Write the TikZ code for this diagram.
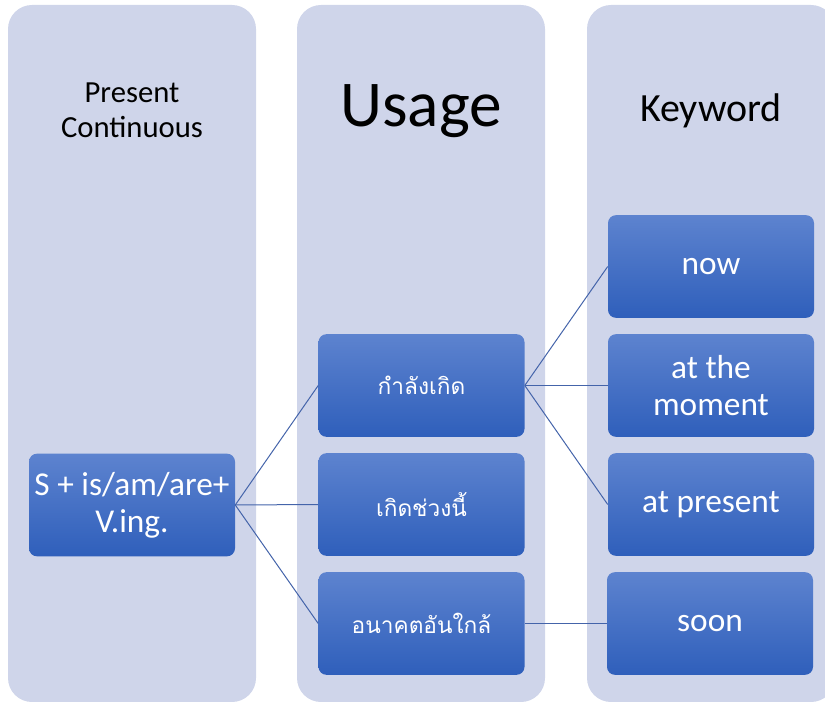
\documentclass[tikz,border=0pt]{standalone}
\usepackage{fontspec}
\setmainfont{Carlito}
\newfontfamily\thaifont[Script=Thai]{Loma}
\definecolor{colbg}{RGB}{207,213,234}
\definecolor{boxtop}{RGB}{93,131,207}
\definecolor{boxbot}{RGB}{47,95,187}
\definecolor{linkcol}{RGB}{68,100,170}
\tikzset{
	column/.style={fill=colbg, rounded corners=18pt},
	item/.style={rectangle, rounded corners=6pt, top color=boxtop, bottom color=boxbot, draw=none,
		minimum width=154.5pt, minimum height=77pt, inner sep=0pt, text=white, align=center},
	keytext/.style={font=\fontsize{25}{28}\selectfont},
	thaitext/.style={font=\thaifont\fontsize{17}{20}\selectfont},
	link/.style={draw=linkcol, line width=0.75pt}
}
\begin{document}
\begin{tikzpicture}[x=0.75pt, y=-0.75pt]
				\useasboundingbox (0,0) rectangle (825,702);
				\fill[column] (8,5) rectangle (256,702);
				\fill[column] (297,5) rectangle (545,702);
				\fill[column] (587,5) rectangle (835,702);
				\node[align=center, font=\fontsize{23}{26}\selectfont] (T1)at(132, 110) {Present\\Continuous};
				\node[anchor=base, font=\fontsize{49}{52}\selectfont] (T2)at(421, 127) {Usage};
				\node[anchor=base, font=\fontsize{30}{34}\selectfont] (T3)at(711, 122) {Keyword};
				\node[item, keytext] (S)at(132, 505) {S + is/am/are+\\V.ing.};
				\node[item, thaitext] (U1)at(421.5, 385.5) {กำลังเกิด};
				\node[item, thaitext] (U2)at(421.5, 504.5) {เกิดช่วงนี้};
				\node[item, thaitext] (U3)at(421.5, 623.5) {อนาคตอันใกล้};
				\node[item, keytext] (K1)at(711, 266.5) {now};
				\node[item, keytext] (K2)at(711, 385.5) {at the\\moment};
				\node[item, keytext] (K3)at(711, 504.5) {at present};
				\node[item, keytext] (K4)at(710, 623.5) {soon};
				\draw[link] (S.east) -- (U1.west);
				\draw[link] (S.east) -- (U2.west);
				\draw[link] (S.east) -- (U3.west);
				\draw[link] (U1.east) -- (K1.west);
				\draw[link] (U1.east) -- (K2.west);
				\draw[link] (U1.east) -- (K3.west);
				\draw[link] (U3.east) -- (K4.west);
			\end{tikzpicture}
\end{document}
